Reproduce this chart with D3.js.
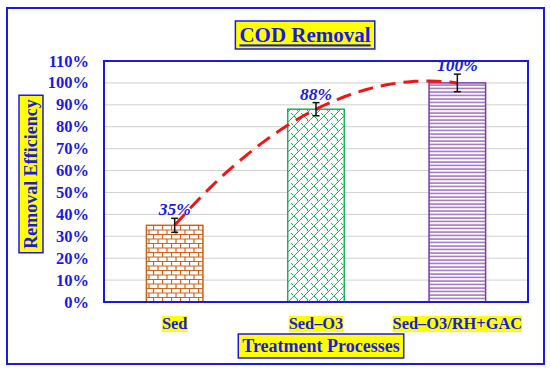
<!DOCTYPE html>
<html>
<head>
<meta charset="utf-8">
<script src="https://cdn.jsdelivr.net/npm/d3@7"></script>
<style>
  body { margin: 0; background: #fff; }
  text { font-family: "Liberation Serif", "Times New Roman", serif; font-weight: bold; }
</style>
</head>
<body>
<div id="chart"></div>
<script>
// chart data
const categories = ['Sed', 'Sed\u2013O3', 'Sed\u2013O3/RH+GAC'];
const removal = [35, 88, 100];
const errors = [3.2, 3, 4];
const yTicks = [0, 10, 20, 30, 40, 50, 60, 70, 80, 90, 100, 110];
const patterns = ['brick', 'diagBrick', 'hlines'];
const colors = ['#D0621C', '#1DB05A', '#7A3BA8'];

const w = 550;
const h = 373;
const plot = { left: 104, right: 528, top: 61, bottom: 302 };
const blue = '#1A1AE6';

const svg = d3.select('#chart')
  .append('svg')
  .attr('width', w)
  .attr('height', h);

// patterns
const defs = svg.append('defs');

const brick = defs.append('pattern')
  .attr('id', 'brick').attr('patternUnits', 'userSpaceOnUse')
  .attr('width', 9).attr('height', 9);
brick.append('rect').attr('width', 9).attr('height', 9).attr('fill', '#fff');
brick.append('path')
  .attr('d', 'M0,0.5H9 M0,5H9 M0.5,0V5 M5,5V9')
  .attr('stroke', colors[0]).attr('stroke-width', 1.2).attr('fill', 'none');

const diag = defs.append('pattern')
  .attr('id', 'diagBrick').attr('patternUnits', 'userSpaceOnUse')
  .attr('width', 10).attr('height', 10);
diag.append('rect').attr('width', 10).attr('height', 10).attr('fill', '#fff');
diag.append('path')
  .attr('d', 'M-1,11 L11,-1 M-1,1 L1,-1 M4,6 L9,11 M1,3 L3,5 M6,-1 L9,2')
  .attr('stroke', colors[1]).attr('stroke-width', 1).attr('fill', 'none');

const hl = defs.append('pattern')
  .attr('id', 'hlines').attr('patternUnits', 'userSpaceOnUse')
  .attr('width', 6).attr('height', 3.5);
hl.append('rect').attr('width', 6).attr('height', 3.5).attr('fill', '#fff');
hl.append('line')
  .attr('x1', 0).attr('x2', 6).attr('y1', 1).attr('y2', 1)
  .attr('stroke', colors[2]).attr('stroke-width', 1.1);

// outer frame
svg.append('rect')
  .attr('x', 7).attr('y', 8).attr('width', 537).attr('height', 356)
  .attr('fill', 'none').attr('stroke', blue).attr('stroke-width', 2);

// scales
const xScale = d3.scaleBand()
  .domain(categories)
  .range([plot.left, plot.right])
  .paddingInner(0.6)
  .paddingOuter(0.3);

const yScale = d3.scaleLinear()
  .domain([0, 110])
  .range([plot.bottom, plot.top]);

// gridlines
svg.append('g')
  .selectAll('line')
  .data(yTicks.slice(1, -1))
  .enter()
  .append('line')
  .attr('x1', plot.left).attr('x2', plot.right)
  .attr('y1', d => yScale(d)).attr('y2', d => yScale(d))
  .attr('stroke', '#d0d0d0').attr('stroke-width', 1);

// bars
svg.selectAll('.bar')
  .data(removal)
  .enter()
  .append('rect')
  .attr('class', 'bar')
  .attr('x', (d, i) => xScale(categories[i]))
  .attr('y', d => yScale(d))
  .attr('width', xScale.bandwidth())
  .attr('height', d => plot.bottom - yScale(d))
  .attr('fill', (d, i) => `url(#${patterns[i]})`)
  .attr('stroke', (d, i) => colors[i])
  .attr('stroke-width', 1.5);

// plot border
svg.append('rect')
  .attr('x', plot.left).attr('y', plot.top)
  .attr('width', plot.right - plot.left).attr('height', plot.bottom - plot.top)
  .attr('fill', 'none').attr('stroke', blue).attr('stroke-width', 2);

// trendline (2nd order polynomial through the bars)
const a = (removal[2] - 2 * removal[1] + removal[0]) / 2;
const b = removal[1] - removal[0] - 3 * a;
const c = removal[0] - a - b;
const centre = t => xScale(categories[0]) + xScale.bandwidth() / 2 + (t - 1) * xScale.step();
const trend = d3.range(1, 3.001, 0.05).map(t => [centre(t), yScale(a * t * t + b * t + c)]);

svg.append('path')
  .datum(trend)
  .attr('d', d3.line())
  .attr('fill', 'none')
  .attr('stroke', '#F01414')
  .attr('stroke-width', 3)
  .attr('stroke-dasharray', '15,8');

// error bars
const eb = svg.append('g').attr('stroke', '#111').attr('stroke-width', 1.5);
removal.forEach((v, i) => {
  const cx = xScale(categories[i]) + xScale.bandwidth() / 2;
  eb.append('line').attr('x1', cx).attr('x2', cx)
    .attr('y1', yScale(v + errors[i])).attr('y2', yScale(v - errors[i]));
  [v + errors[i], v - errors[i]].forEach(e => {
    eb.append('line').attr('x1', cx - 3.5).attr('x2', cx + 3.5)
      .attr('y1', yScale(e)).attr('y2', yScale(e));
  });
});

// data labels
svg.selectAll('.val')
  .data(removal)
  .enter()
  .append('text')
  .attr('class', 'val')
  .attr('x', (d, i) => xScale(categories[i]) + xScale.bandwidth() / 2)
  .attr('y', (d, i) => yScale(d + errors[i]) - 3)
  .attr('text-anchor', 'middle')
  .attr('font-style', 'italic')
  .attr('font-size', 17.5)
  .attr('fill', blue)
  .text(d => d + '%');

// y axis labels
svg.append('g')
  .selectAll('text')
  .data(yTicks)
  .enter()
  .append('text')
  .attr('x', 89)
  .attr('y', d => yScale(d) + 5.5)
  .attr('text-anchor', 'end')
  .attr('font-size', 16.5)
  .attr('fill', blue)
  .text(d => d + '%');

// category labels with yellow highlight
const catG = svg.append('g');
categories.forEach(cat => {
  const t = catG.append('text')
    .attr('x', xScale(cat) + xScale.bandwidth() / 2)
    .attr('y', 329)
    .attr('text-anchor', 'middle')
    .attr('font-size', 16.4)
    .attr('fill', blue)
    .text(cat);
  const bb = t.node().getBBox();
  catG.insert('rect', 'text')
    .attr('x', bb.x).attr('y', bb.y + 2)
    .attr('width', bb.width).attr('height', bb.height - 3)
    .attr('fill', '#FFFF00');
});

// boxed titles
function boxedText(x, y, str, size, rotate, underline) {
  const g = svg.append('g').attr('transform', `translate(${x},${y})` + (rotate ? ' rotate(-90)' : ''));
  const t = g.append('text')
    .attr('text-anchor', 'middle')
    .attr('dy', '0.35em')
    .attr('font-size', size)
    .attr('fill', blue)
    .text(str);
  if (underline) t.attr('text-decoration', 'underline');
  const bb = t.node().getBBox();
  g.insert('rect', 'text')
    .attr('x', bb.x - 4).attr('y', -bb.height / 2 - 2)
    .attr('width', bb.width + 8).attr('height', bb.height + 4)
    .attr('fill', '#FFFF00')
    .attr('stroke', blue)
    .attr('stroke-width', 1.5);
}

boxedText(305, 35, 'COD Removal', 21, false, true);
boxedText(31, 174, 'Removal Efficiency', 18, true, false);
boxedText(321, 346, 'Treatment Processes', 18, false, false);
</script>
</body>
</html>
